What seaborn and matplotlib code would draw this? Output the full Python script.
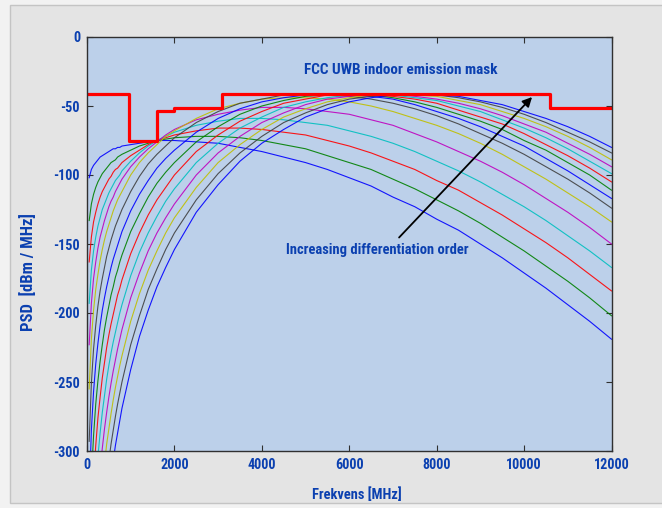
import numpy as np
import pandas as pd
import matplotlib
matplotlib.use('Agg')
import matplotlib.pyplot as plt
import matplotlib.font_manager as fm
import seaborn as sns
from matplotlib.patches import Rectangle

nan = float('nan')

# Frequency grid (MHz)
freq_mhz = [50, 100, 150, 200, 250, 300, 350, 400, 450, 500, 550, 600, 650, 700, 750, 800,
            1000, 1200, 1400, 1600, 1800, 2000, 2500, 3000, 3500, 4000, 4500, 5000, 5500, 6000,
            6500, 7000, 7500, 8000, 8500, 9000, 9500, 10000, 10500, 11000, 11500, 12000]

# PSD (dBm/MHz) of the Gaussian pulse derivatives, orders 1..15
psd_order1 = [-102, -96, -93, -91, -89, -87, -86, -85, -84, -83, -82, -81, -81, -80, -80, -79,
              -78, -77, -76, -75, -75, -75, -76, -77, -80, -83, -87, -91, -96, -102,
              -108, -116, -123, -132, -140, -150, -160, -171, -182, -194, -206, -219]
psd_order2 = [-133, -121, -114, -109, -105, -102, -99, -97, -95, -93, -91, -90, -89, -87, -86, -85,
              -82, -79, -77, -75, -74, -73, -72, -72, -73, -75, -78, -81, -86, -91,
              -96, -103, -110, -118, -126, -135, -145, -155, -166, -177, -189, -202]
psd_order3 = [-163, -145, -134, -127, -121, -116, -112, -109, -106, -103, -101, -98, -96, -95, -93, -91,
              -86, -82, -78, -75, -73, -71, -68, -66, -66, -67, -69, -71, -75, -79,
              -84, -90, -96, -104, -111, -120, -129, -139, -149, -160, -172, -184]
psd_order4 = [-193, -169, -155, -145, -137, -131, -125, -121, -117, -113, -110, -107, -104, -102, -100, -97,
              -90, -84, -79, -75, -72, -69, -64, -61, -59, -59, -60, -62, -64, -68,
              -72, -77, -83, -90, -97, -105, -114, -123, -133, -144, -155, -167]
psd_order5 = [-223, -193, -175, -163, -153, -145, -139, -133, -128, -123, -119, -116, -112, -109, -106, -103,
              -94, -87, -81, -76, -71, -67, -60, -56, -53, -51, -51, -52, -54, -56,
              -60, -64, -70, -76, -83, -90, -98, -107, -117, -127, -138, -150]
psd_order6 = [-255, -219, -198, -183, -172, -162, -154, -147, -141, -136, -131, -126, -122, -118, -115, -112,
              -100, -91, -84, -78, -72, -68, -59, -52, -48, -45, -44, -44, -45, -47,
              -50, -54, -59, -64, -70, -77, -85, -94, -103, -113, -123, -134]
psd_order7 = [-293, -251, -226, -209, -195, -184, -175, -167, -159, -153, -147, -142, -137, -133, -129, -125,
              -112, -101, -92, -85, -79, -73, -62, -54, -48, -45, -42, -41, -42, -43,
              -45, -48, -52, -57, -63, -70, -77, -85, -94, -103, -113, -124]
psd_order8 = [-333, -285, -257, -237, -222, -209, -198, -189, -181, -174, -167, -161, -156, -151, -146, -141,
              -126, -114, -104, -95, -88, -82, -69, -59, -52, -47, -44, -42, -41, -42,
              -43, -45, -49, -54, -59, -65, -72, -79, -88, -97, -107, -117]
psd_order9 = [nan, -320, -289, -266, -249, -235, -223, -212, -203, -195, -187, -181, -174, -169, -163, -158,
              -141, -128, -116, -106, -98, -91, -76, -65, -56, -50, -46, -43, -42, -41,
              -42, -44, -47, -51, -56, -61, -67, -75, -82, -91, -100, -111]
psd_order10 = [nan, nan, -321, -296, -276, -261, -247, -236, -225, -216, -208, -201, -194, -187, -182, -176,
               -157, -142, -129, -118, -109, -100, -83, -71, -61, -54, -48, -45, -42, -41,
               -42, -43, -45, -48, -53, -58, -63, -70, -78, -86, -95, -105]
psd_order11 = [nan, nan, nan, nan, -304, -287, -272, -260, -248, -238, -229, -221, -214, -207, -200, -194,
               -173, -156, -142, -130, -119, -110, -91, -77, -66, -58, -51, -47, -44, -42,
               -41, -42, -44, -46, -50, -54, -60, -66, -73, -81, -90, -99]
psd_order12 = [nan, nan, nan, nan, nan, -314, -298, -284, -272, -261, -251, -242, -234, -226, -219, -212,
               -189, -171, -155, -142, -131, -121, -100, -84, -72, -62, -55, -49, -45, -43,
               -41, -41, -43, -45, -48, -52, -57, -63, -69, -77, -85, -94]
psd_order13 = [nan, nan, nan, nan, nan, nan, nan, -309, -295, -284, -273, -263, -254, -246, -238, -231,
               -206, -186, -169, -155, -142, -131, -109, -91, -78, -67, -58, -52, -47, -44,
               -42, -41, -42, -43, -46, -49, -54, -59, -65, -72, -80, -89]
psd_order14 = [nan, nan, nan, nan, nan, nan, nan, nan, nan, -307, -295, -285, -275, -266, -258, -250,
               -223, -202, -183, -168, -154, -142, -118, -99, -84, -72, -62, -55, -49, -45,
               -43, -42, -41, -42, -44, -47, -51, -56, -62, -69, -76, -84]
psd_order15 = [nan, nan, nan, nan, nan, nan, nan, nan, nan, nan, nan, -307, -296, -287, -278, -269,
               -241, -217, -198, -181, -167, -154, -127, -107, -90, -77, -67, -58, -52, -47,
               -44, -42, -41, -42, -43, -46, -49, -54, -59, -65, -72, -80]

# FCC UWB indoor emission mask
mask_freq = [0, 960, 960, 1610, 1610, 1990, 1990, 3100, 3100, 10600, 10600, 12000]
mask_db = [-41.3, -41.3, -75.3, -75.3, -53.3, -53.3, -51.3, -51.3, -41.3, -41.3, -51.3, -51.3]

x_ticks = [0, 2000, 4000, 6000, 8000, 10000, 12000]
y_ticks = [0, -50, -100, -150, -200, -250, -300]

curves = [psd_order1, psd_order2, psd_order3, psd_order4, psd_order5, psd_order6, psd_order7,
          psd_order8, psd_order9, psd_order10, psd_order11, psd_order12, psd_order13,
          psd_order14, psd_order15]
matlab_colors = ['#0000ff', '#008000', '#ff0000', '#00bfbf', '#bf00bf', '#bfbf00', '#404040']

frames = []
for n, vals in enumerate(curves, 1):
    frames.append(pd.DataFrame({'order': n, 'freq': freq_mhz, 'psd': vals}))
df = pd.concat(frames, ignore_index=True).dropna()
palette = {n: matlab_colors[(n - 1) % 7] for n in range(1, 16)}

plt.rcParams['axes.unicode_minus'] = False
avail = {f.name for f in fm.fontManager.ttflist}
family = 'Liberation Sans'
for cand in ['Liberation Sans Narrow', 'Arial Narrow', 'Roboto Condensed', 'Open Sans Condensed',
             'Noto Sans Condensed']:
    if cand in avail:
        family = cand
        break
fonts = [family, 'DejaVu Sans']
blue = '#0b40b0'

fig = plt.figure(figsize=(6.62, 5.08), dpi=100, facecolor='#f2f2f2')
renderer = fig.canvas.get_renderer()


def fitted_size(text, target_px):
    t = fig.text(0, 0, text, fontsize=10, family=fonts, fontweight='bold')
    bb = t.get_window_extent(renderer=renderer)
    t.remove()
    return 10 * target_px / bb.width


fig.patches.append(Rectangle((10 / 662, 5 / 508), 1.2, 498 / 508, transform=fig.transFigure,
                             facecolor='#e4e4e4', edgecolor='#c4c4c4', lw=1, zorder=-1))
ax = fig.add_axes([87 / 662, 57 / 508, 524.5 / 662, 414 / 508])
ax.set_facecolor('#bcd0ea')

sns.lineplot(data=df, x='freq', y='psd', hue='order', palette=palette, legend=False,
             estimator=None, sort=False, lw=0.8, alpha=0.9, ax=ax)
sns.lineplot(x=mask_freq, y=mask_db, estimator=None, sort=False, color='#ff0000', lw=2.3, ax=ax)

ax.set_xlim(0, 12000)
ax.set_ylim(-300, 0)
ax.set_xticks(x_ticks)
ax.set_yticks(y_ticks)
ax.set_xticklabels([str(t) for t in x_ticks])
ax.set_yticklabels([str(t) for t in y_ticks])
tick_size = min(12.5, fitted_size('12000', 31) * 1.15)
ax.tick_params(direction='in', length=4, width=0.8, color='#303030', top=True, right=True,
               labelsize=tick_size, labelcolor=blue, pad=5)
for lab in ax.get_xticklabels() + ax.get_yticklabels():
    lab.set_fontfamily(fonts)
    lab.set_fontweight('bold')
for s in ax.spines.values():
    s.set_color('#303030')
    s.set_linewidth(1.0)

ax.set_xlabel('Frekvens [MHz]', fontsize=min(12, fitted_size('Frekvens [MHz]', 85) * 1.05),
              fontweight='bold', color=blue, family=fonts)
ax.set_ylabel('PSD  [dBm / MHz]', fontsize=min(12, fitted_size('PSD  [dBm / MHz]', 112) * 1.05),
              fontweight='bold', color=blue, family=fonts)
ax.xaxis.set_label_coords(0.515, -0.088)
ax.yaxis.set_label_coords(-0.098, 0.432)

ax.text(7174, -24, 'FCC UWB indoor emission mask', ha='center', va='center',
        fontsize=min(11, fitted_size('FCC UWB indoor emission mask', 186) * 1.05),
        fontweight='bold', color=blue, family=fonts)
ax.text(6640, -154, 'Increasing differentiation order', ha='center', va='center',
        fontsize=min(11, fitted_size('Increasing differentiation order', 174) * 1.05),
        fontweight='bold', color=blue, family=fonts)
ax.annotate('', xy=(10183, -43.5), xytext=(7140, -145.3),
            arrowprops=dict(arrowstyle='-|>', color='black', lw=1.3, mutation_scale=14,
                            shrinkA=0, shrinkB=0))

plt.savefig('out.png', dpi=100, facecolor=fig.get_facecolor())
